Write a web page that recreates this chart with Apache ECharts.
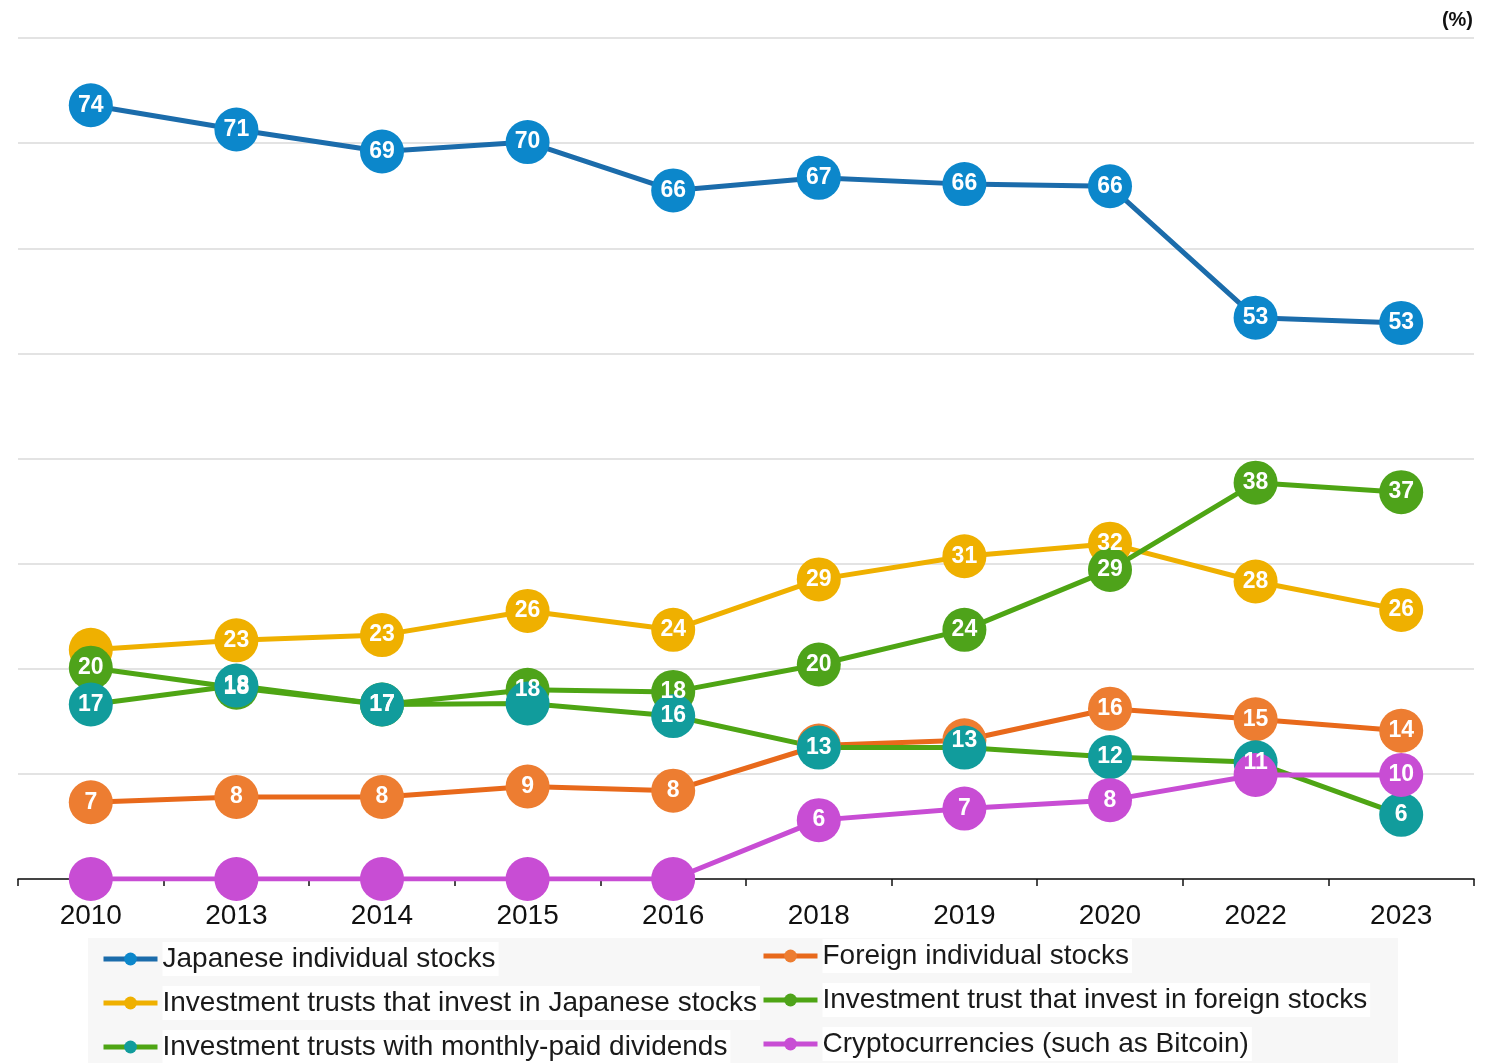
<!DOCTYPE html>
<html>
<head>
<meta charset="utf-8">
<script src="https://cdn.jsdelivr.net/npm/echarts@6/dist/echarts.min.js"></script>
<style>
html,body{margin:0;padding:0;background:#fff;}
#chart{width:1496px;height:1063px;}
</style>
</head>
<body>
<div id="chart"></div>
<script>
const categories = ['2010','2013','2014','2015','2016','2018','2019','2020','2022','2023'];
const seriesNames = [
  'Japanese individual stocks',
  'Foreign individual stocks',
  'Investment trusts that invest in Japanese stocks',
  'Investment trust that invest in foreign stocks',
  'Investment trusts with monthly-paid dividends',
  'Cryptocurrencies (such as Bitcoin)'
];
const japaneseStocks = [73.6, 71.3, 69.2, 70.1, 65.5, 66.7, 66.1, 65.9, 53.4, 52.9];
const foreignStocks = [7.3, 7.8, 7.8, 8.8, 8.4, 12.7, 13.2, 16.2, 15.2, 14.1];
const trustsJapanese = [21.8, 22.7, 23.2, 25.5, 23.7, 28.5, 30.7, 31.9, 28.3, 25.6];
const trustsForeign = [20.1, 18.2, 16.6, 18.0, 17.8, 20.4, 23.7, 29.4, 37.7, 36.8];
const trustsMonthly = [16.6, 18.4, 16.6, 16.7, 15.5, 12.5, 12.5, 11.6, 11.1, 6.1];
const crypto = [0, 0, 0, 0, 0, 5.6, 6.7, 7.5, 9.9, 9.9];
const unitLabel = '(%)';

// indices whose value labels are hidden behind other markers
const hiddenLabels = [[], [5], [0], [], [3, 6], [8]];

const lineColors = ['#1B6CAB', '#E8691B', '#EFB000', '#4EA514', '#4EA514', '#C84DD4'];
const dotColors  = ['#0C87CB', '#ED7D31', '#EFB000', '#4EA31A', '#119C9C', '#C84DD4'];
const allData = [japaneseStocks, foreignStocks, trustsJapanese, trustsForeign, trustsMonthly, crypto];

const font = "'Liberation Sans', Arial, sans-serif";

const series = allData.map((d, i) => ({
  name: seriesNames[i],
  type: 'line',
  data: d,
  symbol: 'circle',
  symbolSize: 44,
  showAllSymbol: true,
  lineStyle: { color: lineColors[i], width: 5 },
  itemStyle: { color: dotColors[i] },
  label: {
    show: true,
    position: 'inside',
    color: '#fff',
    fontWeight: 'bold',
    fontSize: 23,
    fontFamily: font,
    formatter: p => (p.value === 0 || hiddenLabels[i].includes(p.dataIndex)) ? '' : String(Math.round(p.value))
  },
  emphasis: { disabled: true }
}));

const legendText = {
  fontSize: 28, color: '#1a1a1a', fontFamily: font,
  backgroundColor: '#fff', padding: [2, 3, 2, 0], lineHeight: 30
};
const legendCommon = {
  orient: 'vertical',
  padding: 0,
  height: 130,
  itemWidth: 54, itemHeight: 16, itemGap: 10,
  lineStyle: { width: 5 },
  textStyle: legendText, selectedMode: false
};

const chart = echarts.init(document.getElementById('chart'));
chart.setOption({
  animation: false,
  title: {
    text: unitLabel, right: 18, top: 5,
    textStyle: { fontSize: 20, fontWeight: 'bold', color: '#111', fontFamily: font }
  },
  graphic: [{
    type: 'rect', left: 88, top: 938, z: 0,
    shape: { width: 1310, height: 125 },
    style: { fill: '#f7f7f7' }
  }],
  grid: { left: 18, right: 22, top: 38, bottom: 184 },
  xAxis: {
    type: 'category',
    data: categories,
    boundaryGap: true,
    axisLine: { lineStyle: { color: '#111', width: 1.5 } },
    axisTick: { show: true, length: 7, lineStyle: { color: '#111', width: 1.5 } },
    axisLabel: { fontSize: 28, color: '#111', fontFamily: font, margin: 23 },
    splitLine: { show: false }
  },
  yAxis: {
    type: 'value', min: 0, max: 80, interval: 10,
    axisLabel: { show: false },
    axisLine: { show: false },
    axisTick: { show: false },
    splitLine: { lineStyle: { color: '#dadada', width: 1.5 } }
  },
  legend: [
    Object.assign({ data: [seriesNames[0], seriesNames[2], seriesNames[4]], left: 101, top: 942 }, legendCommon),
    Object.assign({ data: [seriesNames[1], seriesNames[3], seriesNames[5]], left: 761, top: 939 }, legendCommon)
  ],
  series: series
});
</script>
</body>
</html>
